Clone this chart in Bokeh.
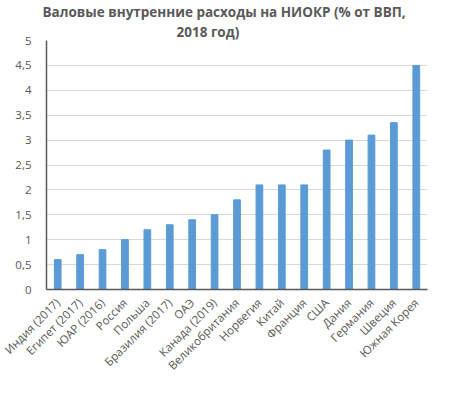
import math
from bokeh.plotting import figure
from bokeh.models import Title, ColumnDataSource
from bokeh.embed import file_html
from bokeh.resources import INLINE

countries = ["Индия (2017)", "Египет (2017)", "ЮАР (2016)", "Россия", "Польша",
             "Бразилия (2017)", "ОАЭ", "Канада (2019)", "Великобритания", "Норвегия",
             "Китай", "Франция", "США", "Дания", "Германия", "Швеция", "Южная Корея"]
values = [0.6, 0.7, 0.8, 1.0, 1.2, 1.3, 1.4, 1.5, 1.8, 2.1, 2.1, 2.1, 2.8, 3.0, 3.1, 3.35, 4.5]
y_ticks = [0, 0.5, 1, 1.5, 2, 2.5, 3, 3.5, 4, 4.5, 5]
y_tick_labels = ["0", "0,5", "1", "1,5", "2", "2,5", "3", "3,5", "4", "4,5", "5"]
title_lines = ["Валовые внутренние расходы на НИОКР (% от ВВП,", "2018 год)"]

src = ColumnDataSource(dict(x=countries, top=values))

p = figure(x_range=countries, y_range=(0, 5), width=434, height=380,
           output_backend="svg", toolbar_location=None, title=None,
           min_border_left=46, min_border_right=7, min_border_top=40, min_border_bottom=91)

p.vbar(x="x", top="top", width=0.3, source=src, color="#5b9bd5")

p.outline_line_color = None
p.xgrid.grid_line_color = None
p.ygrid.grid_line_color = "#d9d9d9"
p.ygrid.grid_line_width = 1

p.yaxis.ticker = y_ticks
p.yaxis.major_label_overrides = {t: l for t, l in zip(y_ticks, y_tick_labels)}
for ax in (p.xaxis, p.yaxis):
    ax.axis_line_color = "#595959"
    ax.axis_line_width = 1.5
    ax.major_tick_line_color = None
    ax.minor_tick_line_color = None
    ax.major_label_text_color = "#595959"
    ax.major_label_text_font = "Open Sans"
    ax.major_label_text_font_size = "11.5px"
p.yaxis.major_label_standoff = 9
p.xaxis.major_label_orientation = math.pi / 4
p.xaxis.major_label_standoff = 5

for line, off in reversed(list(zip(title_lines, [-4, 130]))):
    p.add_layout(Title(text=line, align="left", offset=off, standoff=0,
                       text_font="Open Sans", text_font_style="bold",
                       text_font_size="13.5px", text_color="#595959"), "above")

open("out.html", "w").write(file_html(p, INLINE))
